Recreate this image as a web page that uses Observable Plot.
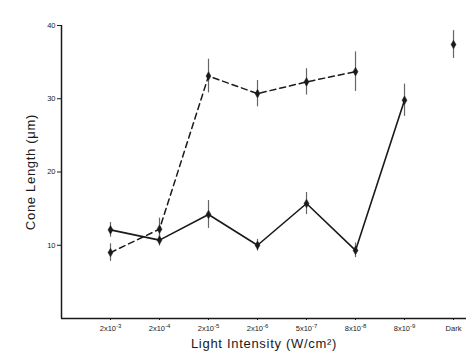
<!DOCTYPE html>
<html>
<head>
<meta charset="utf-8">
<script src="https://cdn.jsdelivr.net/npm/d3@7"></script>
<script src="https://cdn.jsdelivr.net/npm/@observablehq/plot@0.6"></script>
<style>
  html, body { margin: 0; padding: 0; background: #fff; }
  #chart svg { display: block; }
</style>
</head>
<body>
<div id="chart"></div>
<script>
const categories = ["2x10⁻³", "2x10⁻⁴", "2x10⁻⁵", "2x10⁻⁶", "5x10⁻⁷", "8x10⁻⁸", "8x10⁻⁹", "Dark"];
const solidMean = [12.1, 10.7, 14.2, 10.0, 15.7, 9.3, 29.8];
const solidErr  = [1.0, 0.8, 1.9, 0.8, 1.5, 1.0, 2.2];
const dashedMean = [9.0, 12.2, 33.1, 30.7, 32.3, 33.7];
const dashedErr  = [1.2, 1.5, 2.3, 1.8, 1.8, 2.7];
const darkMean = [37.4];
const darkErr  = [1.9];
const yTicks = [10, 20, 30, 40];

const solid = solidMean.map((v, i) => ({i, v, e: solidErr[i]}));
const dashed = dashedMean.map((v, i) => ({i, v, e: dashedErr[i]}));
const dark = darkMean.map((v, k) => ({i: 7, v, e: darkErr[k]}));
const allPts = [...solid, ...dashed, ...dark];

const ink = "#1a1a1a";

const chart = Plot.plot({
  width: 466,
  height: 361,
  marginLeft: 61,
  marginRight: 0,
  marginTop: 25,
  marginBottom: 43,
  style: {fontFamily: "'Liberation Sans', Arial, sans-serif", color: ink, background: "#fff"},
  x: {type: "linear", domain: [-1, 7.265]},
  y: {domain: [0, 40]},
  marks: [
    Plot.axisY({ticks: yTicks, tickSize: 4, tickPadding: 2, fontSize: 7.5,
      label: "Cone Length (μm)", labelAnchor: "center", labelArrow: "none", labelOffset: 36}),
    Plot.axisX({ticks: d3.range(categories.length), tickFormat: i => categories[i],
      tickSize: 2, tickPadding: 5, fontSize: 7.5,
      label: "Light Intensity (W/cm²)", labelAnchor: "center", labelArrow: "none", labelOffset: 29}),
    Plot.ruleY([0], {stroke: ink, strokeWidth: 1.5}),
    Plot.ruleX([-1], {y1: 0, y2: 40, stroke: ink, strokeWidth: 1.5}),
    Plot.ruleX(allPts, {x: "i", y1: d => d.v - d.e, y2: d => d.v + d.e, stroke: "#666", strokeWidth: 1.2}),
    Plot.line(solid, {x: "i", y: "v", stroke: ink, strokeWidth: 1.6}),
    Plot.line(dashed, {x: "i", y: "v", stroke: ink, strokeWidth: 1.5, strokeDasharray: "6,4"}),
    Plot.dot(allPts, {x: "i", y: "v", symbol: "diamond", r: 2.6, fill: ink, stroke: ink, strokeWidth: 0.5})
  ]
});

// axis titles: larger, spaced like the original
chart.querySelectorAll("[aria-label='y-axis label'], [aria-label='x-axis label']").forEach(g => {
  g.setAttribute("font-size", "13");
  g.querySelectorAll("text").forEach(t => { t.setAttribute("font-size", "13"); t.setAttribute("letter-spacing", "0.7"); });
});

// render superscript exponents in tick labels as raised tspans
const supMap = {"⁻": "-", "⁰": "0", "¹": "1", "²": "2", "³": "3", "⁴": "4", "⁵": "5", "⁶": "6", "⁷": "7", "⁸": "8", "⁹": "9"};
chart.querySelectorAll("[aria-label='x-axis tick label'] text").forEach(t => {
  const s = t.textContent;
  const m = s.match(/^([^⁻⁰¹²³⁴⁵⁶⁷⁸⁹]*)([⁻⁰¹²³⁴⁵⁶⁷⁸⁹]+)$/);
  if (!m) return;
  t.textContent = "";
  const ns = "http://www.w3.org/2000/svg";
  const a = document.createElementNS(ns, "tspan");
  a.textContent = m[1];
  const b = document.createElementNS(ns, "tspan");
  b.textContent = [...m[2]].map(c => supMap[c]).join("");
  b.setAttribute("dy", "-3");
  b.setAttribute("font-size", "6");
  t.appendChild(a); t.appendChild(b);
});
document.getElementById("chart").appendChild(chart);
</script>
</body>
</html>
